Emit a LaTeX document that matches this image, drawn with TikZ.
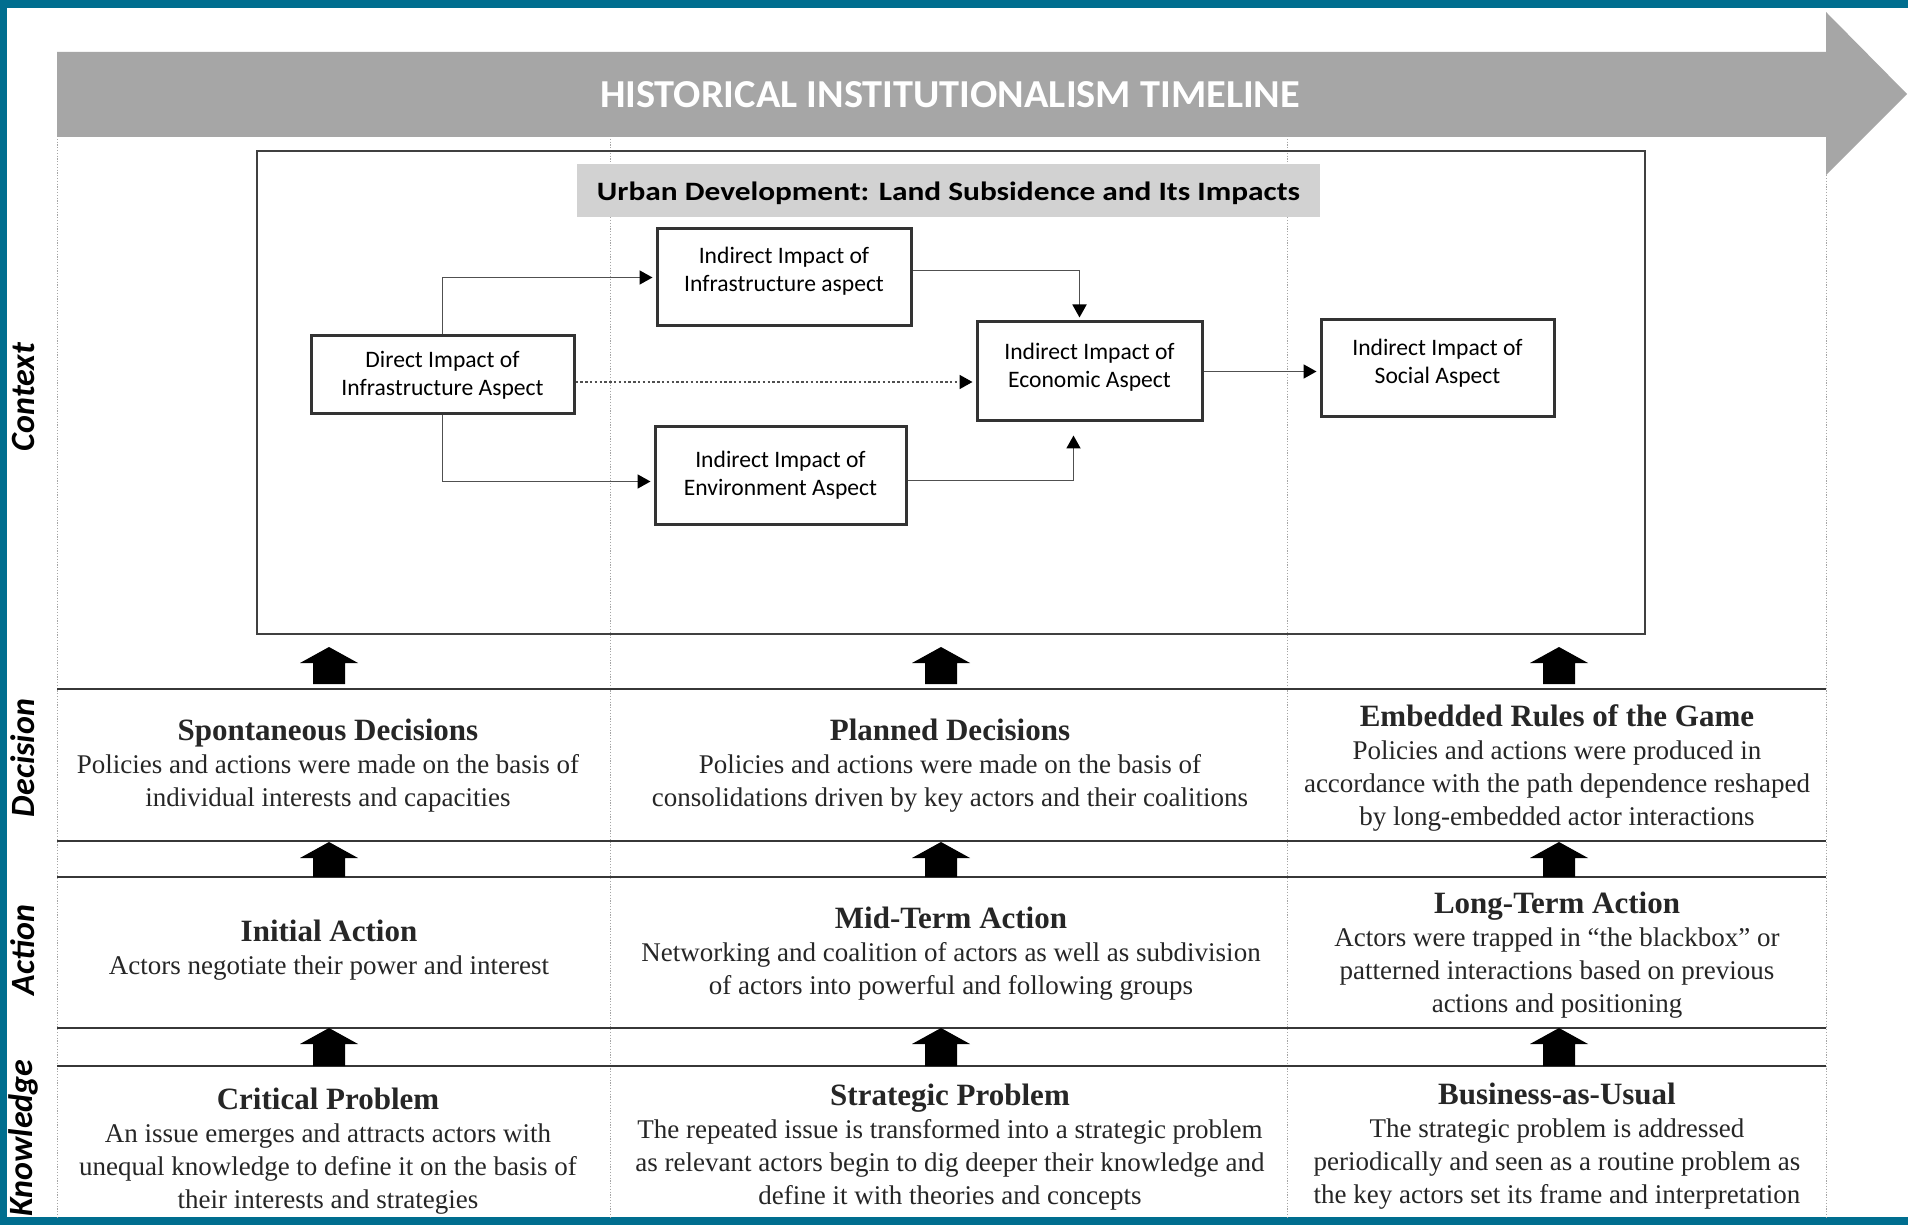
\documentclass[tikz,border=0pt]{standalone}
\usepackage{fontspec}
\setmainfont{Liberation Serif}
\newfontfamily\calfont{Carlito}
\usetikzlibrary{arrows.meta}
\definecolor{tealframe}{RGB}{0,110,143}
\definecolor{arrowgray}{RGB}{166,166,166}
\definecolor{titlegray}{RGB}{210,210,210}
\definecolor{hlinecol}{RGB}{55,55,55}
\definecolor{conncol}{RGB}{80,80,80}
\newcommand{\bodyfont}{\fontsize{13.5}{16.5}\selectfont}
\newcommand{\headfont}{\fontsize{15.5}{16.5}\selectfont\bfseries}
\newcommand{\blockup}[3]{\fill[black] ({#1-16},#3) -- ({#1-16},{#2+16}) -- ({#1-29},{#2+16}) -- (#1,#2) -- ({#1+29},{#2+16}) -- ({#1+16},{#2+16}) -- ({#1+16},#3) -- cycle;}
\begin{document}
\begin{tikzpicture}[x=0.5pt,y=-0.5pt,
  imp/.style={draw=black!80, line width=1.5pt, fill=white, align=center, inner sep=1pt,
    font=\calfont\fontsize{11.8}{14}\selectfont, text=black},
  conn/.style={draw=conncol, line width=0.9pt, shorten >=1.5pt, -{Triangle[length=6.5pt,width=7pt,color=black]}},
  dotconn/.style={conn, dash pattern=on 1.2pt off 1.2pt},
  grid/.style={draw=gray!70, line width=0.5pt, dash pattern=on 0.6pt off 0.8pt},
  hline/.style={draw=hlinecol, line width=1.4pt},
  rowtxt/.style={align=center, inner sep=0pt, font=\bodyfont, text=black!85},
  sidelab/.style={rotate=90, inner sep=0pt, font=\calfont\bfseries\itshape\fontsize{17}{17}\selectfont}]
\useasboundingbox (0,0) rectangle (1908,1225);
\fill[white] (0,0) rectangle (1908,1225);
% frame
\fill[tealframe] (0,0) rectangle (1908,8);
\fill[tealframe] (0,0) rectangle (7,1225);
\fill[tealframe] (0,1217) rectangle (1908,1225);
% column grid lines
\foreach \gx in {57,610,1287,1826} {\draw[grid] (\gx,136) -- (\gx,1217);}
% timeline arrow
\fill[arrowgray] (57,52) -- (1826,52) -- (1826,12) -- (1907,94) -- (1826,175) -- (1826,137) -- (57,137) -- cycle;
\node[text=white, inner sep=0pt] (tl) at (950,95) {\resizebox{350pt}{13pt}{\calfont\bfseries HISTORICAL INSTITUTIONALISM TIMELINE}};
% context box
\node[draw=black!75, line width=0.8pt, minimum width=694pt, minimum height=241.5pt, inner sep=0pt] (ctx) at (951,392.5) {};
\node[fill=titlegray, minimum width=371.5pt, minimum height=26.5pt, inner sep=0pt] (ctitle) at (948.5,190.5) {};
\node[inner sep=0pt] (ctitletext) at (948.5,193.5) {\resizebox{351.5pt}{9.3pt}{\calfont\bfseries Urban Development: Land Subsidence and Its Impacts}};
% impact boxes
\node[imp, minimum width=131.5pt, minimum height=39pt] (direct) at (442.5,375) {Direct Impact of\\Infrastructure Aspect};
\node[imp, minimum width=127pt, minimum height=48.5pt] (infra) at (784,277.5) {Indirect Impact of\\Infrastructure aspect\rule[-8pt]{0pt}{0pt}};
\node[imp, minimum width=125.5pt, minimum height=48.5pt] (env) at (780.5,475.5) {Indirect Impact of\\Environment Aspect};
\node[imp, minimum width=112.5pt, minimum height=49.5pt] (econ) at (1089.5,371.5) {Indirect Impact of\\Economic Aspect\rule[-6pt]{0pt}{0pt}};
\node[imp, minimum width=116.5pt, minimum height=48.5pt] (social) at (1437.5,368.5) {Indirect Impact of\\Social Aspect\rule[-7pt]{0pt}{0pt}};
% connectors
\draw[conn] (direct.north) |- (infra.west);
\draw[conn] (direct.south) |- ([yshift=-3pt]env.west);
\draw[dotconn] ([yshift=-3.5pt]direct.east) -- ([yshift=-3.5pt]direct.east -| econ.west);
\draw[conn] ([yshift=3.5pt]infra.east) -| ([xshift=-5pt]econ.north);
\draw[conn] ([yshift=-2.5pt]env.east) -| ([xshift=-8pt,yshift=-5pt]econ.south);
\draw[conn] (econ.east) -- (econ.east -| social.west);
% horizontal row lines
\foreach \hy in {689,841,877,1028,1066} {\draw[hline] (57,\hy) -- (1826,\hy);}
% block arrows
\foreach \bx in {329,941,1559} {
  \blockup{\bx}{647}{684}
  \blockup{\bx}{842}{877}
  \blockup{\bx}{1028}{1066}
}
% side labels
\node[sidelab] (lctx) at (23,397) {Context};
\node[sidelab] (ldec) at (23,758) {Decision};
\node[sidelab] (lact) at (23,950) {Action};
\node[sidelab] (lkno) at (23,1138) {Knowledge};
% decision row
\node[rowtxt] (dec1) at (328,766) {{\headfont Spontaneous Decisions}\\Policies and actions were made on the basis of\\individual interests and capacities};
\node[rowtxt] (dec2) at (950,766) {{\headfont Planned Decisions}\\Policies and actions were made on the basis of\\consolidations driven by key actors and their coalitions};
\node[rowtxt] (dec3) at (1557,767.5) {{\headfont Embedded Rules of the Game}\\Policies and actions were produced in\\accordance with the path dependence reshaped\\by long-embedded actor interactions};
% action row
\node[rowtxt] (act1) at (329,950) {{\headfont Initial Action}\\Actors negotiate their power and interest};
\node[rowtxt] (act2) at (951,953.5) {{\headfont Mid-Term Action}\\Networking and coalition of actors as well as subdivision\\of actors into powerful and following groups};
\node[rowtxt] (act3) at (1557,955) {{\headfont Long-Term Action}\\Actors were trapped in “the blackbox” or\\patterned interactions based on previous\\actions and positioning};
% knowledge row
\node[rowtxt] (kn1) at (328,1151) {{\headfont Critical Problem}\\An issue emerges and attracts actors with\\unequal knowledge to define it on the basis of\\their interests and strategies};
\node[rowtxt] (kn2) at (950,1147.5) {{\headfont Strategic Problem}\\The repeated issue is transformed into a strategic problem\\as relevant actors begin to dig deeper their knowledge and\\define it with theories and concepts};
\node[rowtxt] (kn3) at (1557,1146) {{\headfont Business-as-Usual}\\The strategic problem is addressed\\periodically and seen as a routine problem as\\the key actors set its frame and interpretation};
\end{tikzpicture}
\end{document}
